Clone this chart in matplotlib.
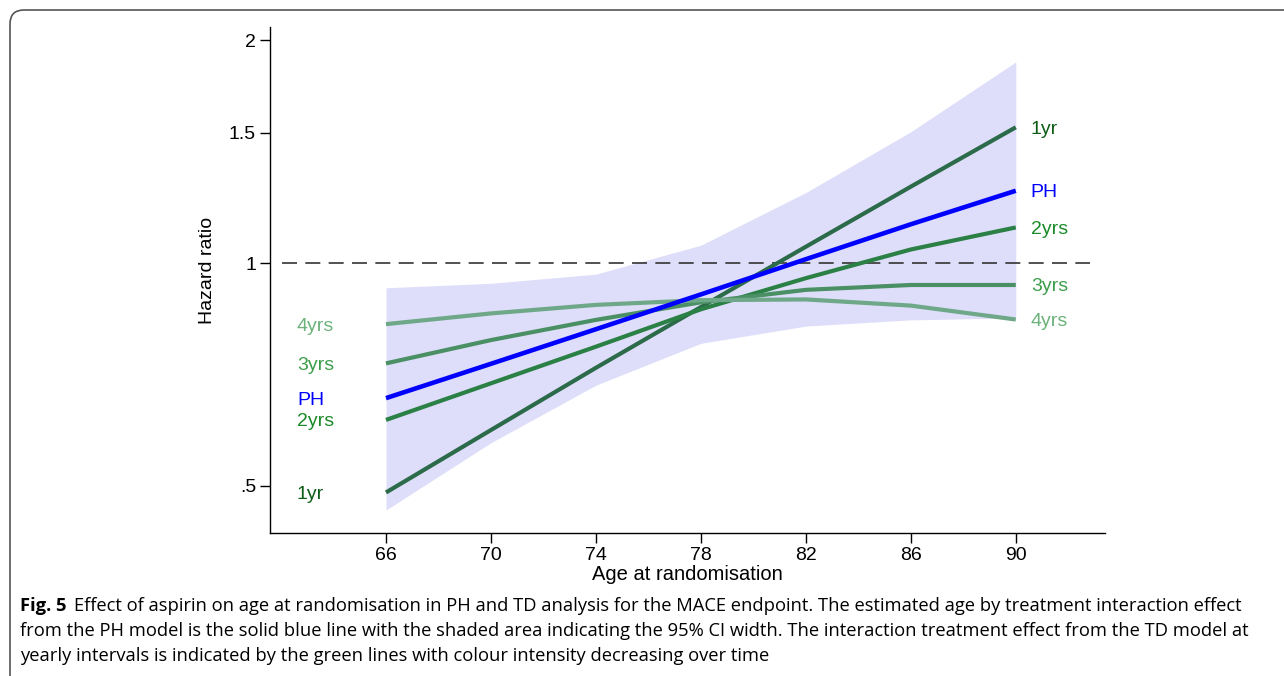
import matplotlib.pyplot as plt
from matplotlib.patches import FancyBboxPatch
from matplotlib.transforms import IdentityTransform

plt.rcParams['font.family'] = ['Liberation Sans', 'DejaVu Sans']

# Data (hazard ratios on log scale)
ages = [66, 70, 74, 78, 82, 86, 90]
ci_lower = [0.464, 0.572, 0.684, 0.779, 0.822, 0.838, 0.843]
ci_upper = [0.926, 0.939, 0.966, 1.057, 1.245, 1.504, 1.869]
ph = [0.657, 0.731, 0.814, 0.907, 1.012, 1.128, 1.252]
yr1 = [0.49, 0.595, 0.722, 0.872, 1.052, 1.268, 1.525]
yr2 = [0.614, 0.688, 0.771, 0.866, 0.954, 1.043, 1.117]
yr3 = [0.732, 0.787, 0.838, 0.885, 0.92, 0.934, 0.934]
yr4 = [0.827, 0.855, 0.878, 0.891, 0.893, 0.876, 0.839]
yticks = [0.5, 1, 1.5, 2]
ytick_labels = ['.5', '1', '1.5', '2']

series = [
    ('1yr', yr1, '#2c6b4a', '#0d5d16'),
    ('2yrs', yr2, '#2b8045', '#1b8a28'),
    ('3yrs', yr3, '#4b9064', '#3c9e4b'),
    ('4yrs', yr4, '#6fa888', '#6cb27b'),
]

fig = plt.figure(figsize=(12.84, 6.76), dpi=100)
ax = fig.add_axes([270 / 1284, 1 - 533 / 676, (1105 - 270) / 1284, (533 - 27) / 676])

ax.fill_between(ages, ci_lower, ci_upper, color='#dedefa', linewidth=0, zorder=1)
ax.plot([62.04, 92.83], [1, 1], color='#333333', lw=1.2, dashes=(9, 5), zorder=2)

for name, vals, lc, tc in series:
    ax.plot(ages, vals, color=lc, lw=3.0, solid_capstyle='butt', zorder=3)
ax.plot(ages, ph, color='#0000ff', lw=3.3, solid_capstyle='butt', zorder=4)

# line-end labels
labels = series + [('PH', ph, '#0000ff', '#0000ff')]
for name, vals, lc, tc in labels:
    ax.annotate(name, xy=(ages[0], vals[0]), xytext=(-89, -2), textcoords='offset pixels',
                ha='left', va='center', color=tc, fontsize=14)
    ax.annotate(name, xy=(ages[-1], vals[-1]), xytext=(15, -2), textcoords='offset pixels',
                ha='left', va='center', color=tc, fontsize=14)

ax.set_yscale('log')
ax.set_ylim(0.432, 2.083)
ax.set_xlim(61.58, 93.4)
ax.set_yticks(yticks)
ax.set_yticklabels(ytick_labels)
ax.yaxis.set_minor_locator(plt.NullLocator())
ax.set_xticks(ages)
ax.tick_params(labelsize=14, length=7, width=1, direction='out', pad=3)
for s in ['top', 'right']:
    ax.spines[s].set_visible(False)
ax.spines['left'].set_linewidth(1)
ax.spines['bottom'].set_linewidth(1)

ax.set_xlabel('Age at randomisation', fontsize=14.5, labelpad=1)
fig.text(207 / 1284, 1 - 270 / 676, 'Hazard ratio', rotation=90, ha='center', va='center', fontsize=14)

# caption
cap_font = ['Open Sans', 'DejaVu Sans']
cap_size = 13.2
t = fig.text(20 / 1284, 1 - 606 / 676, 'Fig. 5', fontsize=cap_size, weight='bold', family=cap_font,
             va='center', ha='left')
fig.canvas.draw()
bb = t.get_window_extent()
x0 = (bb.x1 + 8) / 1284
fig.text(x0, 1 - 606 / 676,
         'Effect of aspirin on age at randomisation in PH and TD analysis for the MACE endpoint. '
         'The estimated age by treatment interaction effect',
         fontsize=cap_size, family=cap_font, va='center', ha='left')
fig.text(20 / 1284, 1 - 631 / 676,
         'from the PH model is the solid blue line with the shaded area indicating the 95% CI width. '
         'The interaction treatment effect from the TD model at',
         fontsize=cap_size, family=cap_font, va='center', ha='left')
fig.text(20 / 1284, 1 - 656 / 676,
         'yearly intervals is indicated by the green lines with colour intensity decreasing over time',
         fontsize=cap_size, family=cap_font, va='center', ha='left')

# rounded frame (left and top edges)
frame = FancyBboxPatch((10, -40), 1400, 676 - 10 + 40, boxstyle='round,pad=0,rounding_size=14',
                       transform=IdentityTransform(), fill=False, edgecolor='#555555', lw=1.2)
fig.patches.append(frame)

fig.savefig('out.png', dpi=100)
